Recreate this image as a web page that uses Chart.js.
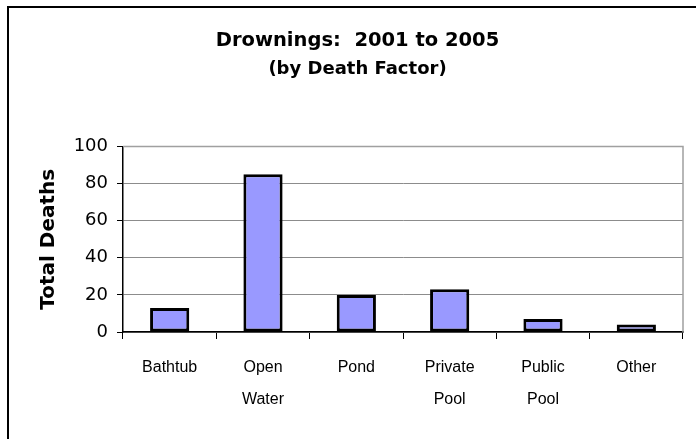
<!DOCTYPE html>
<html>
<head>
<meta charset="utf-8">
<script src="https://cdn.jsdelivr.net/npm/chart.js@4/dist/chart.umd.min.js"></script>
<style>
  html, body { margin: 0; padding: 0; background: #ffffff; }
  #wrap { position: relative; width: 696px; height: 439px; }
</style>
</head>
<body>
<div id="wrap"><canvas id="c" width="696" height="439"></canvas></div>
<script>
const categories = [["Bathtub"], ["Open", "Water"], ["Pond"], ["Private", "Pool"], ["Public", "Pool"], ["Other"]];
const totalDeaths = [13, 85, 20, 23, 7, 4];
const yTicks = [0, 20, 40, 60, 80, 100];
const chartTitle = "Drownings:  2001 to 2005";
const chartSubtitle = "(by Death Factor)";
const yAxisTitle = "Total Deaths";

const frameAndPlotBorder = {
  id: 'frameAndPlotBorder',
  beforeDraw(chart) {
    const ctx = chart.ctx;
    ctx.save();
    ctx.fillStyle = '#ffffff';
    ctx.fillRect(0, 0, chart.width, chart.height);
    ctx.strokeStyle = '#000000';
    ctx.lineWidth = 2;
    ctx.beginPath();
    ctx.moveTo(8, chart.height);
    ctx.lineTo(8, 7);
    ctx.lineTo(chart.width, 7);
    ctx.stroke();
    ctx.restore();
  },
  beforeDatasetsDraw(chart) {
    const a = chart.chartArea;
    const ctx = chart.ctx;
    ctx.save();
    ctx.strokeStyle = '#a0a0a0';
    ctx.lineWidth = 1.5;
    ctx.beginPath();
    ctx.moveTo(a.left, a.top);
    ctx.lineTo(a.right, a.top);
    ctx.lineTo(a.right, a.bottom);
    ctx.stroke();
    ctx.restore();
  }
};

new Chart(document.getElementById('c'), {
  type: 'bar',
  data: {
    labels: categories,
    datasets: [{
      data: totalDeaths,
      backgroundColor: '#9999ff',
      borderColor: '#000000',
      borderWidth: 3,
      borderSkipped: false,
      barPercentage: 0.42,
      categoryPercentage: 1.0
    }]
  },
  options: {
    responsive: false,
    animation: false,
    devicePixelRatio: 1,
    layout: { padding: { left: 32, right: 13, top: 0, bottom: 0 } },
    plugins: {
      legend: { display: false },
      tooltip: { enabled: false },
      title: {
        display: true,
        text: chartTitle,
        color: '#000000',
        font: { family: 'DejaVu Sans', size: 19.5, weight: 'bold', lineHeight: 1.2 },
        padding: { top: 29, bottom: 6.5 }
      },
      subtitle: {
        display: true,
        text: chartSubtitle,
        color: '#000000',
        font: { family: 'DejaVu Sans', size: 18, weight: 'bold', lineHeight: 1.2 },
        padding: { top: 0, bottom: 66 }
      }
    },
    scales: {
      x: {
        offset: true,
        afterFit(scale) { scale.height = 107; },
        grid: { offset: true, drawOnChartArea: false, drawTicks: true, tickLength: 7, tickColor: '#000000', tickWidth: 1 },
        border: { display: true, color: '#000000', width: 1.5 },
        ticks: {
          color: '#000000',
          padding: 13,
          maxRotation: 0,
          autoSkip: false,
          font: { family: 'Liberation Sans', size: 16, lineHeight: 2 }
        }
      },
      y: {
        min: 0,
        max: 100,
        afterFit(scale) { scale.width = 91; },
        afterBuildTicks(scale) { scale.ticks = yTicks.map(v => ({ value: v })); },
        grid: { color: '#8c8c8c', lineWidth: 1, drawTicks: true, tickLength: 6, tickColor: '#000000' },
        border: { display: true, color: '#000000', width: 1.5 },
        ticks: {
          color: '#000000',
          padding: 9,
          font: { family: 'DejaVu Sans', size: 18 }
        },
        title: {
          display: true,
          text: yAxisTitle,
          color: '#000000',
          font: { family: 'DejaVu Sans', size: 20, weight: 'bold', lineHeight: 1.2 },
          padding: { top: 4.5, bottom: 0 }
        }
      }
    }
  },
  plugins: [frameAndPlotBorder]
});
</script>
</body>
</html>
